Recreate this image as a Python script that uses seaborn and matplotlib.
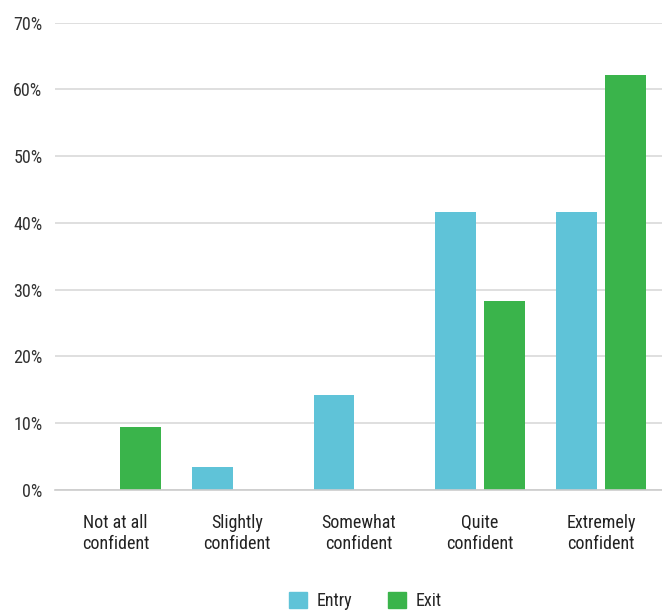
import pandas as pd
import matplotlib.pyplot as plt
import seaborn as sns
from matplotlib import font_manager
from matplotlib.patches import Patch

# data
categories = ["Not at all\nconfident", "Slightly\nconfident", "Somewhat\nconfident",
              "Quite\nconfident", "Extremely\nconfident"]
entry = [0.0, 3.4, 14.2, 41.7, 41.7]
exit_ = [9.5, 0.0, 0.0, 28.3, 62.2]
series = ["Entry", "Exit"]
colors = {"Entry": "#5FC3D8", "Exit": "#3AB44B"}
yticks = [0, 10, 20, 30, 40, 50, 60, 70]

df = pd.DataFrame({
    "category": categories * 2,
    "share": entry + exit_,
    "series": ["Entry"] * len(categories) + ["Exit"] * len(categories),
})

sns.set_style("white")
# pick a narrow font if one is around
names = {f.name for f in font_manager.fontManager.ttflist}
family = [n for n in ["Liberation Sans Narrow", "Roboto Condensed", "Open Sans", "DejaVu Sans"] if n in names]
plt.rcParams["font.family"] = family

fig = plt.figure(figsize=(6.62, 6.11), dpi=100)
ax = fig.add_axes([0.083, 0.198, 0.917, 0.765])

sns.barplot(data=df, x="category", y="share", hue="series", order=categories,
            hue_order=series, palette=colors, width=0.806, gap=0.164,
            saturation=1, linewidth=0, ax=ax, legend=False)

ax.set_ylim(0, 70)
ax.set_yticks(yticks)
ax.set_yticklabels([f"{t}%" for t in yticks], fontsize=13, color="#333333")
ax.set_xlim(-0.5, len(categories) - 0.5)
ax.set_xlabel("")
ax.set_ylabel("")
ax.yaxis.grid(True, color="#D9D9D9", linewidth=1.2)
ax.set_axisbelow(True)
for s in ["top", "right", "left"]:
    ax.spines[s].set_visible(False)
ax.spines["bottom"].set_color("#CCCCCC")
ax.spines["bottom"].set_linewidth(1.2)

# separators between categories
ax.set_xticks([i + 0.5 for i in range(len(categories) - 1)], minor=True)
ax.tick_params(axis="x", which="minor", length=9, width=1.2, color="#CCCCCC")
ax.tick_params(axis="x", which="major", length=0, pad=17, labelsize=13, labelcolor="#222222")
ax.tick_params(axis="y", length=0, pad=9)
for lab in ax.get_xticklabels():
    lab.set_linespacing(1.25)

handles = [Patch(color=colors[s], label=s) for s in series]
fig.legend(handles=handles, loc="lower center", bbox_to_anchor=(0.552, -0.025), ncol=2,
           frameon=False, fontsize=13, handlelength=1.0, handleheight=1.0,
           columnspacing=2.0, handletextpad=0.5)

fig.savefig("out.png", dpi=100)
